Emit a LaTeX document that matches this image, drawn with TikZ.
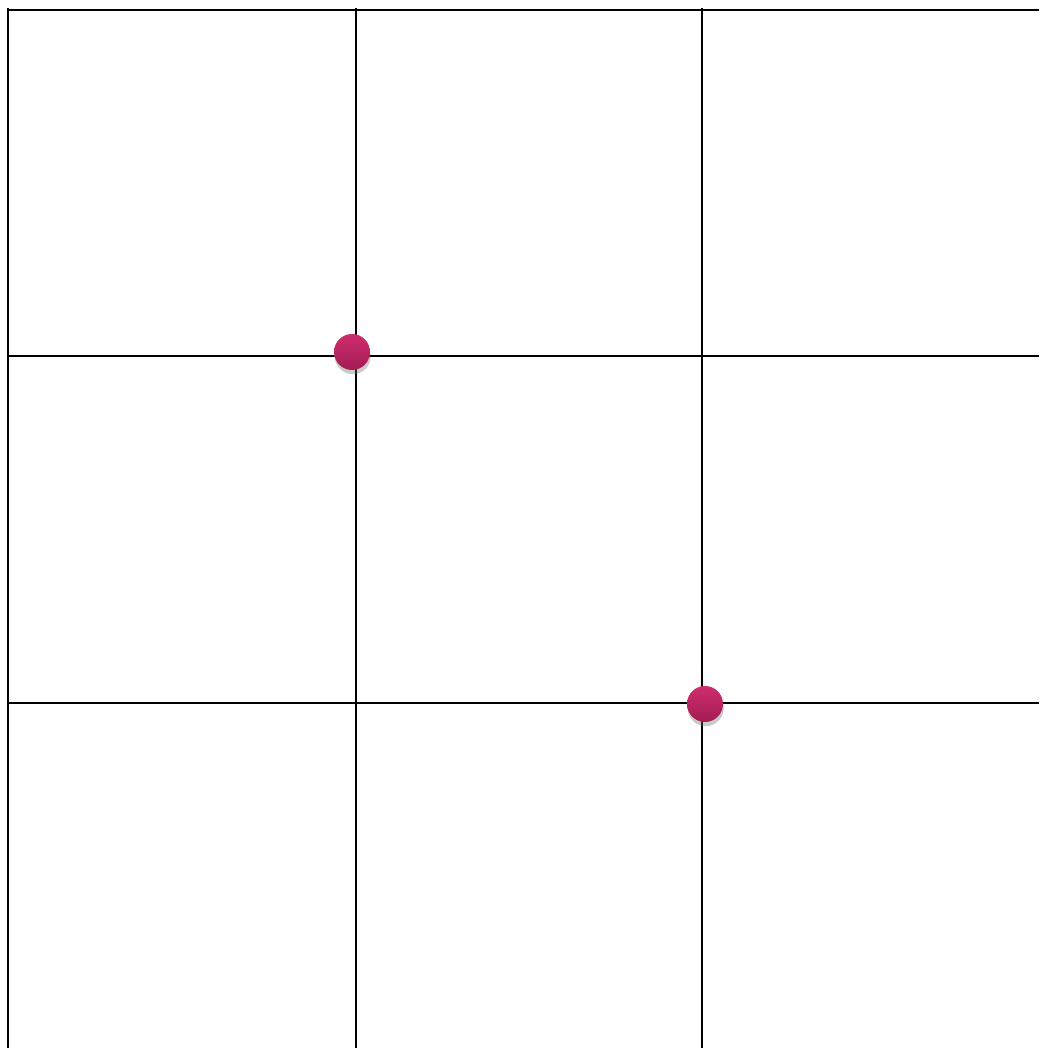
\documentclass[tikz,border=0pt]{standalone}
\usetikzlibrary{shadows}
\definecolor{dotlight}{RGB}{208,46,110}
\definecolor{dotdark}{RGB}{162,28,84}
\tikzset{
  gridline/.style={black,line width=0.6pt},
  dotmark/.style={circle,minimum size=0.36cm,inner sep=0pt,
    top color=dotlight,bottom color=dotdark,
    drop shadow={shadow xshift=0.2pt,shadow yshift=-1.2pt,opacity=0.35,fill=black!60}}
}
\begin{document}
\begin{tikzpicture}
  \useasboundingbox (0,0) rectangle (10.39,10.48);
  % Outer edges (top and left)
  \draw[gridline] (0.08,10.38) -- (10.39,10.38);
  \draw[gridline] (0.08,10.40) -- (0.08,0);
  % Inner grid lines
  \foreach \x in {3.56,7.02} {
    \draw[gridline] (\x,10.40) -- (\x,0);
  }
  \foreach \y in {6.92,3.45} {
    \draw[gridline] (0.08,\y) -- (10.39,\y);
  }
  % Dots at two crossings
  \node[dotmark] (dotA) at (3.52,6.96) {};
  \node[dotmark] (dotB) at (7.05,3.44) {};
\end{tikzpicture}
\end{document}
